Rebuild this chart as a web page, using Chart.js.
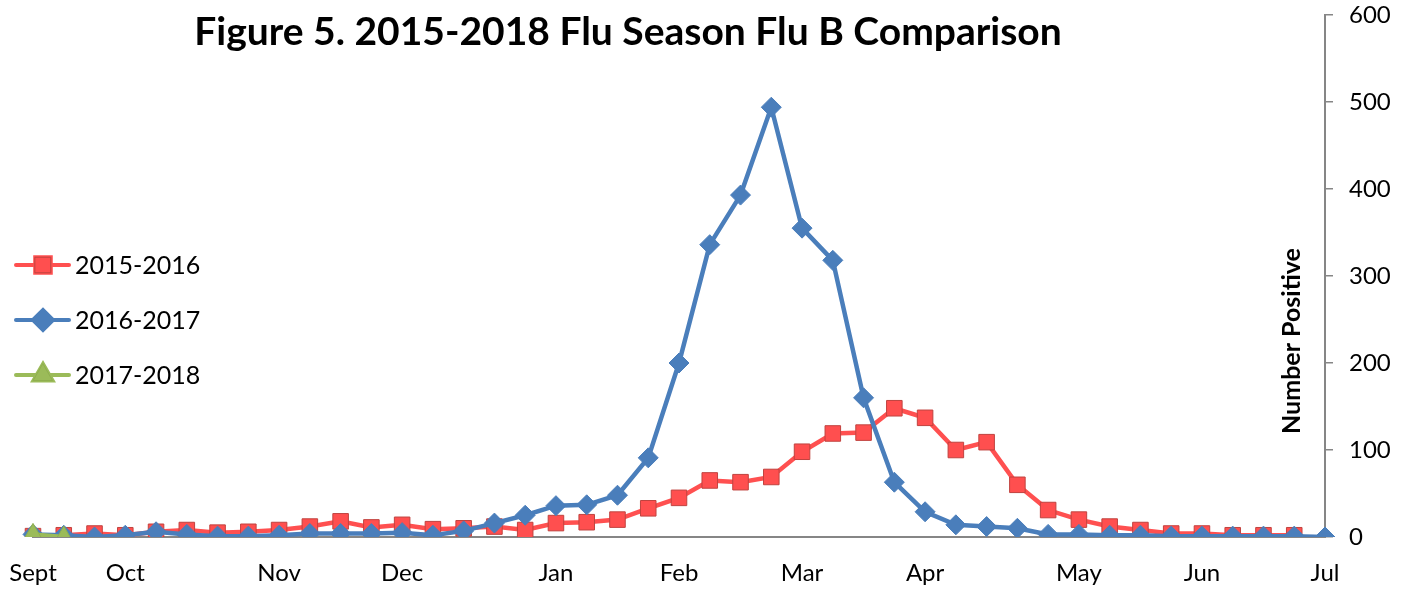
<!DOCTYPE html>
<html>
<head>
<meta charset="utf-8">
<script src="https://cdn.jsdelivr.net/npm/chart.js@4/dist/chart.umd.min.js"></script>
<style>
  html, body { margin: 0; padding: 0; background: #fff; }
  #wrap { width: 1407px; height: 590px; position: relative; }
</style>
</head>
<body>
<div id="wrap"><canvas id="flu-chart" width="1407" height="590"></canvas></div>
<script>
// week labels, month name at the first week of each month
const weeks = ['Sept', '', '', 'Oct', '', '', '', '', 'Nov', '', '', '', 'Dec', '', '', '', '',
  'Jan', '', '', '', 'Feb', '', '', '', 'Mar', '', '', '', 'Apr', '', '', '', '',
  'May', '', '', '', 'Jun', '', '', '', 'Jul'];

const season1516 = [1, 2, 4, 2, 6, 8, 5, 6, 8, 12, 18, 11, 14, 9, 10, 12, 8, 16, 17, 20,
  33, 45, 65, 63, 69, 98, 119, 120, 148, 137, 100, 109, 60, 31, 20, 12, 8, 4, 4, 2, 2, 2];
const season1617 = [3, 2, 0, 2, 6, 3, 1, 1, 2, 4, 4, 4, 5, 2, 7, 16, 25, 36, 37, 48,
  91, 200, 336, 393, 494, 355, 318, 160, 63, 29, 14, 12, 10, 3, 3, 2, 2, 1, 1, 1, 1, 1, 0];
const season1718 = [3, 0];

const yTicks = [0, 100, 200, 300, 400, 500, 600];

const FONT = 'Lato, "Open Sans", sans-serif';
const GREY = '#868686';

// title, rotated axis title and left legend drawn straight on the canvas
const extras = {
  id: 'extras',
  afterDraw(chart) {
    const ctx = chart.ctx;
    ctx.save();
    ctx.fillStyle = '#000';
    ctx.textBaseline = 'middle';

    ctx.font = 'bold 39px ' + FONT;
    ctx.textAlign = 'center';
    ctx.fillText('Figure 5. 2015-2018 Flu Season Flu B Comparison', 628, 32);

    ctx.save();
    ctx.translate(1292, 341);
    ctx.rotate(-Math.PI / 2);
    ctx.font = 'bold 25px ' + FONT;
    ctx.fillText('Number Positive', 0, 0);
    ctx.restore();

    ctx.textAlign = 'left';
    ctx.font = '25px ' + FONT;
    const rows = [265, 320, 375];
    chart.data.datasets.forEach((ds, i) => {
      const y = rows[i];
      ctx.strokeStyle = ds.borderColor;
      ctx.lineWidth = 4;
      ctx.lineCap = 'round';
      ctx.beginPath();
      ctx.moveTo(16, y);
      ctx.lineTo(69, y);
      ctx.stroke();
      Chart.helpers.drawPoint(ctx, {
        pointStyle: ds.pointStyle,
        radius: ds.pointRadius,
        borderWidth: 1
      }, 43, y);
      ctx.fillStyle = ds.pointBackgroundColor;
      ctx.strokeStyle = ds.pointBorderColor;
      ctx.lineWidth = 1;
      ctx.fill();
      ctx.stroke();
      ctx.fillStyle = '#000';
      ctx.fillText(ds.label, 75, y + 1);
    });
    ctx.restore();
  }
};

new Chart(document.getElementById('flu-chart').getContext('2d'), {
  type: 'line',
  data: {
    labels: weeks,
    datasets: [{
      label: '2015-2016',
      data: season1516,
      borderColor: '#FF5050',
      borderWidth: 4.5,
      pointStyle: 'rect',
      pointRadius: 11,
      pointBackgroundColor: '#FF4F4F',
      pointBorderColor: '#C0433F',
      pointBorderWidth: 1,
      order: 2
    }, {
      label: '2016-2017',
      data: season1617,
      borderColor: '#4A7EBB',
      borderWidth: 4.5,
      pointStyle: 'rectRot',
      pointRadius: 10,
      pointBackgroundColor: '#4A7EBB',
      pointBorderColor: '#4A7EBB',
      pointBorderWidth: 1,
      order: 1
    }, {
      label: '2017-2018',
      data: season1718,
      borderColor: '#9BBB59',
      borderWidth: 4.5,
      pointStyle: 'triangle',
      pointRadius: 11,
      pointBackgroundColor: '#9BBB59',
      pointBorderColor: '#8FAF4F',
      pointBorderWidth: 1,
      order: 0
    }]
  },
  options: {
    responsive: false,
    animation: false,
    layout: { padding: { left: 33, top: 15, right: 0, bottom: 0 } },
    plugins: {
      legend: { display: false },
      title: { display: false },
      tooltip: { enabled: false }
    },
    scales: {
      x: {
        offset: false,
        grid: { display: false },
        border: { color: GREY, width: 2 },
        ticks: {
          autoSkip: false,
          maxRotation: 0,
          padding: 14,
          color: '#000',
          font: { family: FONT, size: 24 }
        },
        afterFit(scale) {
          scale.height = 53;
          scale.paddingLeft = 0;
          scale.paddingRight = 0;
        }
      },
      y: {
        position: 'right',
        min: 0,
        max: 600,
        afterBuildTicks(scale) { scale.ticks = yTicks.map(v => ({ value: v })); },
        grid: { drawOnChartArea: false, color: GREY, tickLength: 8, lineWidth: 1.5 },
        border: { color: GREY, width: 2 },
        ticks: {
          padding: 16,
          color: '#000',
          font: { family: FONT, size: 24 }
        },
        afterFit(scale) {
          scale.width = 82;
          scale.paddingTop = 0;
          scale.paddingBottom = 0;
        }
      }
    }
  },
  plugins: [extras]
});
</script>
</body>
</html>
